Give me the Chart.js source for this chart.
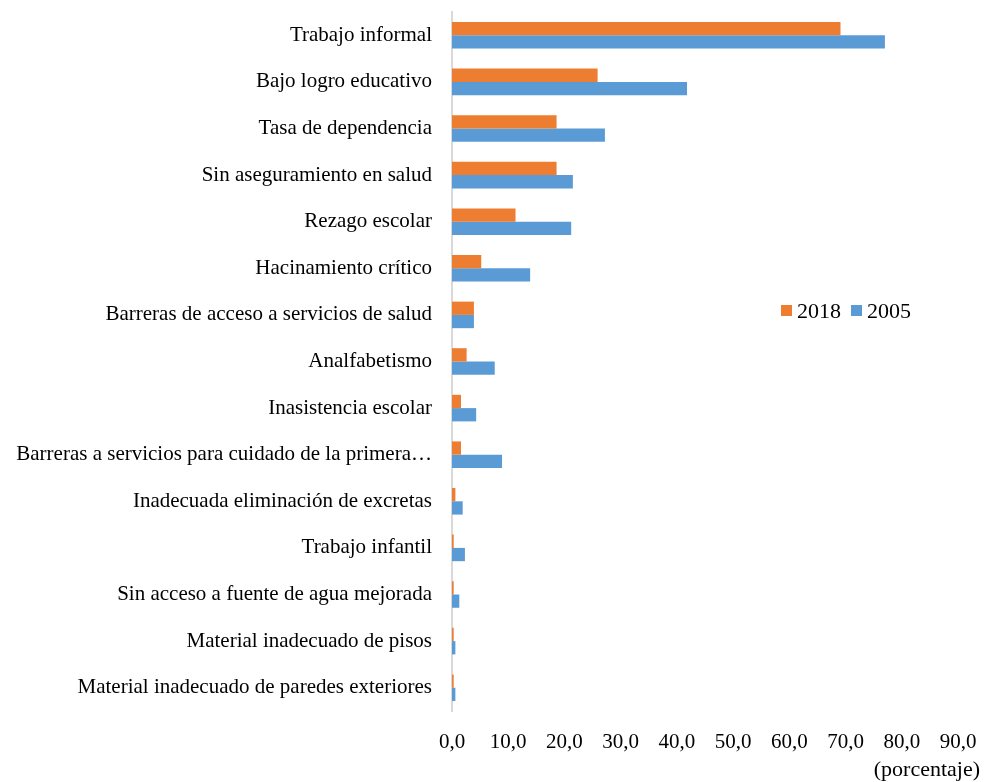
<!DOCTYPE html>
<html>
<head>
<meta charset="utf-8">
<script src="https://cdn.jsdelivr.net/npm/chart.js"></script>
<style>
  html, body { margin: 0; padding: 0; background: #fff; }
  #wrap { width: 986px; height: 782px; }
</style>
</head>
<body>
<div id="wrap"><canvas id="chart" width="986" height="782"></canvas></div>
<script>
  const categories = [
    "Trabajo informal",
    "Bajo logro educativo",
    "Tasa de dependencia",
    "Sin aseguramiento en salud",
    "Rezago escolar",
    "Hacinamiento crítico",
    "Barreras de acceso a servicios de salud",
    "Analfabetismo",
    "Inasistencia escolar",
    "Barreras a servicios para cuidado de la primera…",
    "Inadecuada eliminación de excretas",
    "Trabajo infantil",
    "Sin acceso a fuente de agua mejorada",
    "Material inadecuado de pisos",
    "Material inadecuado de paredes exteriores"
  ];
  const values2018 = [69.1, 25.9, 18.6, 18.6, 11.3, 5.2, 3.9, 2.6, 1.6, 1.6, 0.6, 0.3, 0.3, 0.3, 0.3];
  const values2005 = [77.0, 41.8, 27.2, 21.5, 21.2, 13.9, 3.9, 7.6, 4.3, 8.9, 1.9, 2.3, 1.3, 0.6, 0.6];
  const xTicks = [0, 10, 20, 30, 40, 50, 60, 70, 80, 90];
  const seriesNames = ["2018", "2005"];
  const axisTitle = "(porcentaje)";

  const ORANGE = "#ED7D31";
  const BLUE = "#5B9BD5";
  const FONT = "'Liberation Serif', 'Times New Roman', serif";

  // legend and axis title drawn by hand, Excel-style placement
  const extras = {
    id: "extras",
    afterDraw(chart) {
      const ctx = chart.ctx;
      ctx.save();
      ctx.font = "22px " + FONT;
      ctx.textBaseline = "middle";
      let x = 781;
      const y = 311;
      chart.data.datasets.forEach((ds) => {
        ctx.fillStyle = ds.backgroundColor;
        ctx.fillRect(x, y - 6, 11, 11);
        ctx.fillStyle = "#000";
        ctx.textAlign = "left";
        ctx.fillText(ds.label, x + 16, y + 1);
        x += 16 + ctx.measureText(ds.label).width + 10;
      });
      ctx.textAlign = "right";
      ctx.fillText(axisTitle, 980, 770);
      ctx.restore();
    }
  };

  new Chart(document.getElementById("chart"), {
    type: "bar",
    data: {
      labels: categories,
      datasets: [
        { label: seriesNames[0], data: values2018, backgroundColor: ORANGE },
        { label: seriesNames[1], data: values2005, backgroundColor: BLUE }
      ]
    },
    options: {
      indexAxis: "y",
      responsive: false,
      animation: false,
      layout: { padding: { left: 0, right: 28, top: 12, bottom: 0 } },
      datasets: { bar: { categoryPercentage: 0.57, barPercentage: 1.0 } },
      plugins: { legend: { display: false }, tooltip: { enabled: false } },
      scales: {
        x: {
          min: 0,
          max: 90,
          afterBuildTicks: (s) => { s.ticks = xTicks.map((v) => ({ value: v })); },
          afterFit: (s) => { s.height = 71; s.paddingLeft = 0; s.paddingRight = 0; },
          grid: { display: false, drawTicks: false },
          border: { display: false },
          ticks: {
            padding: 19,
            maxRotation: 0,
            color: "#000",
            font: { family: FONT, size: 21 },
            callback: (v) => Number(v).toFixed(1).replace(".", ",")
          }
        },
        y: {
          afterFit: (s) => { s.width = 452; s.paddingTop = 0; s.paddingBottom = 0; },
          grid: { display: false, drawTicks: false },
          border: { display: true, color: "#d9d9d9", width: 2 },
          ticks: {
            padding: 20,
            autoSkip: false,
            color: "#000",
            font: { family: FONT, size: 21 }
          }
        }
      }
    },
    plugins: [extras]
  });
</script>
</body>
</html>
